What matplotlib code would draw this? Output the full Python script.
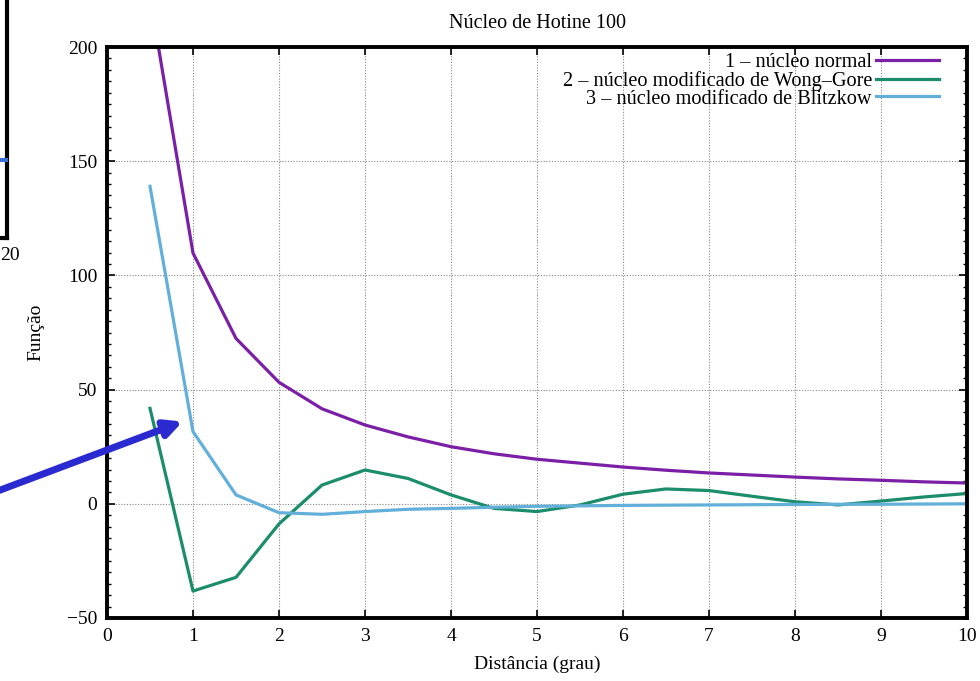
import matplotlib.pyplot as plt
import numpy as np
from matplotlib.ticker import MultipleLocator

# distancia em graus (passo de 0.5)
dist = [0.5, 1, 1.5, 2, 2.5, 3, 3.5, 4, 4.5, 5, 5.5, 6, 6.5, 7, 7.5, 8, 8.5, 9, 9.5, 10]

nucleo_normal = [222, 109.8, 72.4, 53.2, 41.6, 34.5, 29.3, 25.0, 21.9, 19.5,
                 17.8, 16.1, 14.7, 13.5, 12.6, 11.7, 10.9, 10.3, 9.6, 9.1]
wong_gore = [41.8, -38.2, -32.2, -8.8, 8.2, 14.8, 11.1, 3.9, -2.0, -3.4,
             -0.5, 4.2, 6.5, 5.8, 3.3, 0.9, -0.5, 1.2, 3.0, 4.5]
blitzkow = [139, 31.6, 3.9, -3.9, -4.6, -3.4, -2.4, -2.0, -1.5, -1.1,
            -0.9, -0.7, -0.6, -0.5, -0.4, -0.3, -0.2, -0.2, -0.1, 0.0]

labels = ['1 \u2013 n\u00facleo normal',
          '2 \u2013 n\u00facleo modificado de Wong\u2013Gore',
          '3 \u2013 n\u00facleo modificado de Blitzkow']
cores = ['#7a1fa6', '#1b8c6c', '#62b0da']

plt.rcParams['font.family'] = ['Liberation Serif', 'DejaVu Serif']

fig = plt.figure(figsize=(9.8, 6.81), dpi=100)
ax = fig.add_axes([107/980, 63/681, 860/980, 571/681])

for serie, lab, c in zip([nucleo_normal, wong_gore, blitzkow], labels, cores):
    ax.plot(dist, serie, color=c, lw=2.3, label=lab)

ax.set_xlim(0, 10)
ax.set_ylim(-50, 200)
ax.xaxis.set_major_locator(MultipleLocator(1))
ax.yaxis.set_major_locator(MultipleLocator(50))
ax.yaxis.set_minor_locator(MultipleLocator(5))
ax.tick_params(which='both', direction='in', top=True, right=True,
               labelsize=14, color='black')
ax.tick_params(which='major', length=6, width=1.2, pad=7)
ax.tick_params(which='minor', length=3, width=1)
ax.grid(True, which='major', color='#888888', ls=(0, (1, 1.5)), lw=0.8)
for s in ax.spines.values():
    s.set_linewidth(2.8)

ax.set_title('N\u00facleo de Hotine 100', fontsize=14.5, pad=14)
ax.set_xlabel('Dist\u00e2ncia (grau)', fontsize=14, labelpad=8)
ax.set_ylabel('Fun\u00e7\u00e3o', fontsize=14, labelpad=16)

leg = ax.legend(loc='upper right', bbox_to_anchor=(1 - 20/860, 1 + 2/571),
                frameon=False, markerfirst=False, fontsize=14.6,
                handlelength=3.1, handletextpad=0.2, labelspacing=-0.07,
                borderaxespad=0, borderpad=0.4)
for t in leg.get_texts():
    t.set_ha('right')
leg._legend_box.align = 'right'

# pedaço do outro grafico na margem esquerda
fig.add_artist(plt.Line2D([7/980, 7/980], [1, (681-238)/681], color='black', lw=3))
fig.add_artist(plt.Line2D([0, 7/980], [(681-238)/681, (681-238)/681], color='black', lw=3))
fig.add_artist(plt.Line2D([0, 6/980], [(681-160)/681, (681-160)/681], color='#3a6fd8', lw=3))
fig.text(0, (681-256)/681, '20', fontsize=14, va='center', ha='left')

# seta azul
ax.annotate('', xy=(0.88, 36), xycoords='data',
            xytext=(-5, 681-492), textcoords='figure pixels',
            arrowprops=dict(arrowstyle='-|>,head_length=1.0,head_width=0.5',
                            color='#2a2ad0', lw=5, shrinkA=0, shrinkB=0),
            annotation_clip=False)

fig.savefig('out.png', dpi=100)
